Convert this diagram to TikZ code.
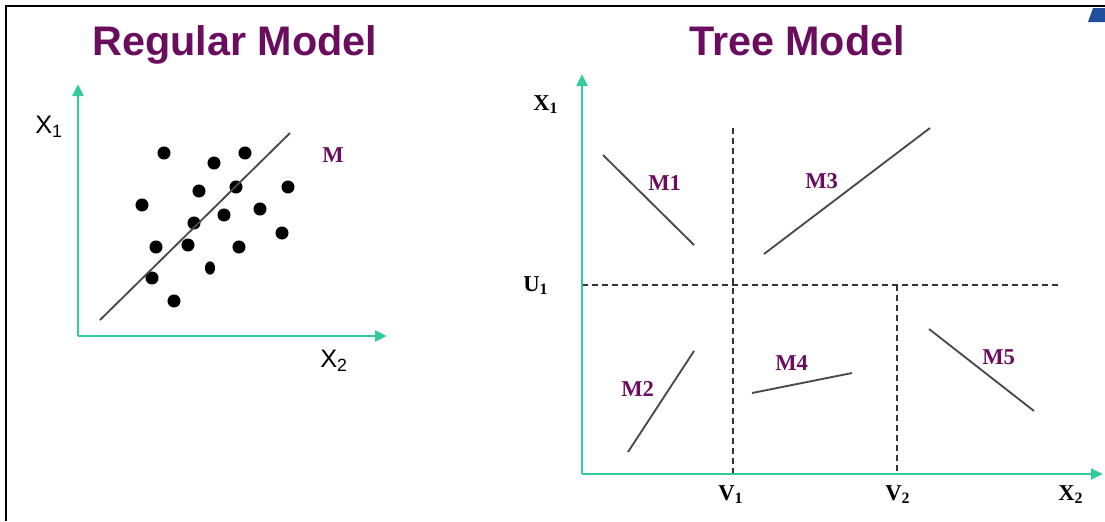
\documentclass[tikz,border=0pt]{standalone}
\usepackage{fontspec}
\setmainfont{Liberation Serif}
\setsansfont{Liberation Sans}
\usepackage{tikz}
\usetikzlibrary{arrows.meta}
\definecolor{axisgreen}{HTML}{33CC99}
\definecolor{titlepurple}{HTML}{6B0D5F}
\definecolor{splitgrey}{HTML}{333333}
\definecolor{linegrey}{HTML}{4A4A4A}
\definecolor{cornerblue}{HTML}{1F4E9A}
\tikzset{
  axis/.style     = {draw=axisgreen, line width=2.2pt,
                     -{Triangle[length=9pt,width=8pt]}},
  title/.style    = {font=\sffamily\bfseries\fontsize{31}{36}\selectfont,
                     text=titlepurple, inner sep=0pt, anchor=base},
  sanslab/.style  = {font=\sffamily\fontsize{19}{22}\selectfont,
                     inner sep=0pt, anchor=base west},
  serlab/.style   = {font=\bfseries\fontsize{17}{20}\selectfont,
                     inner sep=0pt, anchor=base west},
  mlab/.style     = {serlab, text=titlepurple},
  modelline/.style= {draw=linegrey, line width=1.4pt},
  split/.style    = {draw=splitgrey, line width=1.5pt,
                     dash pattern=on 4.5pt off 3pt},
  datadot/.style  = {fill=black},
}

\begin{document}
\begin{tikzpicture}[x=0.75pt,y=-0.75pt]
  \useasboundingbox (0,0) rectangle (1105,521);
  % frame and corner mark
  \draw[line width=2.2pt] (1105,6) -- (6,6) -- (6,521);
  \fill[cornerblue] (1088,22) -- (1093,8) -- (1105,8) -- (1105,22) -- cycle;

  % regular model
  \node[title] (regtitle) at (235,55) {Regular Model};
  \coordinate (rO) at (78,336);
  \coordinate (rY) at (78,84);
  \coordinate (rX) at (387,336);
  \draw[axis] (rO) -- (rY);
  \draw[axis] (rO) -- (rX);
  \node[sanslab] (rx1) at (35,133) {X\textsubscript{1}};
  \node[sanslab] (rx2) at (320,367) {X\textsubscript{2}};
  \foreach \px/\py in {164/153, 214/163, 245/153, 199/191, 236/187, 288/187,
                       142/205, 224/215, 260/209, 194/223, 282/233, 156/247,
                       188/245, 239/247, 152/278, 174/301}
    \fill[datadot] (\px,\py) circle (4.9pt);
  \fill[datadot] (210,268) ellipse (3.8pt and 5pt);
  \coordinate (mA) at (100,320);
  \coordinate (mB) at (290,133);
  \draw[modelline] (mA) -- (mB);
  \node[mlab] (mreg) at (322,162) {M};

  % tree model
  \node[title] (treetitle) at (797,55) {Tree Model};
  \coordinate (tO) at (582,474);
  \coordinate (tY) at (582,74);
  \coordinate (tX) at (1103,474);
  \coordinate (u1L) at (582,285);
  \coordinate (u1R) at (1058,285);
  \coordinate (v1T) at (733,128);
  \coordinate (v1B) at (733,474);
  \coordinate (v2T) at (897,285);
  \coordinate (v2B) at (897,474);
  \draw[split] (u1L) -- (u1R);
  \draw[split] (v1T) -- (v1B);
  \draw[split] (v2T) -- (v2B);
  \draw[axis] (tO) -- (tY);
  \draw[axis] (tO) -- (tX);
  \node[serlab] (tx1) at (533,110) {X\textsubscript{1}};
  \node[serlab] (tu1) at (523,291) {U\textsubscript{1}};
  \node[serlab] (tv1) at (718,500) {V\textsubscript{1}};
  \node[serlab] (tv2) at (885,500) {V\textsubscript{2}};
  \node[serlab] (tx2) at (1058,500) {X\textsubscript{2}};

  \draw[modelline] (603,155) coordinate (m1a) -- (694,245) coordinate (m1b);
  \draw[modelline] (628,452) coordinate (m2a) -- (694,351) coordinate (m2b);
  \draw[modelline] (764,254) coordinate (m3a) -- (930,128) coordinate (m3b);
  \draw[modelline] (752,393) coordinate (m4a) -- (852,373) coordinate (m4b);
  \draw[modelline] (929,329) coordinate (m5a) -- (1034,411) coordinate (m5b);
  \node[mlab] (m1) at (648,190) {M1};
  \node[mlab] (m2) at (621,396) {M2};
  \node[mlab] (m3) at (805,188) {M3};
  \node[mlab] (m4) at (775,370) {M4};
  \node[mlab] (m5) at (982,364) {M5};
\end{tikzpicture}
\end{document}
